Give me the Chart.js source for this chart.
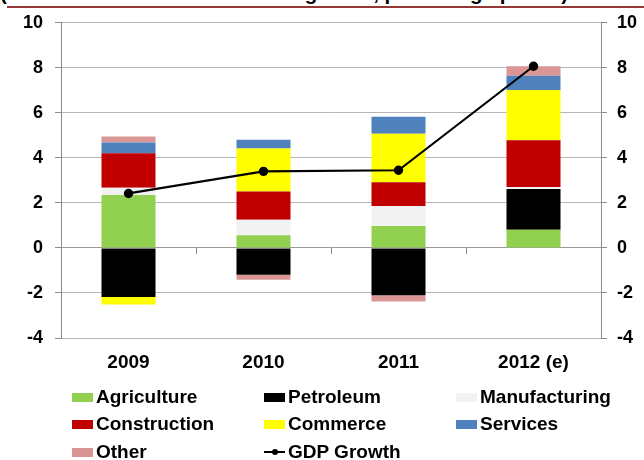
<!DOCTYPE html>
<html><head><meta charset="utf-8">
<script src="https://cdn.jsdelivr.net/npm/chart.js@4.4.1/dist/chart.umd.min.js"></script>
<style>
html,body{margin:0;padding:0;background:#fff;}
#wrap{position:relative;width:644px;height:460px;overflow:hidden;font-family:"Liberation Sans",Arial,sans-serif;}
#title{position:absolute;left:0;top:-17px;font-weight:bold;font-size:20.5px;line-height:20.5px;white-space:nowrap;color:#000;}
#rule{position:absolute;left:7px;right:0;top:6px;height:2px;background:#953735;}
#c{position:absolute;left:0;top:0;}
.item{position:absolute;display:flex;align-items:center;font-weight:bold;font-size:19px;line-height:27px;height:27px;color:#000;white-space:nowrap;}
.sw{width:21px;height:9px;margin-right:3px;margin-top:2px;flex:none;}
.ln{position:relative;width:21px;height:9px;margin-right:3px;margin-top:2px;flex:none;}
.ln:before{content:"";position:absolute;left:0;right:0;top:3.5px;height:2px;background:#000;}
.ln:after{content:"";position:absolute;left:7.5px;top:1.5px;width:6px;height:6px;border-radius:50%;background:#000;}
</style></head>
<body>
<div id="wrap">
  <div id="title">(Sectoral contributions to GDP growth, percentage points)</div>
  <div id="rule"></div>
  <canvas id="c" width="644" height="460"></canvas>
  <div id="legend"></div>
</div>
<script>
const categories = ['2009', '2010', '2011', '2012 (e)'];
const agriculture   = [2.35, 0.56, 0.97, 0.81];
const petroleum     = [-2.18, -1.19, -2.10, 1.81];
const manufacturing = [0.32, 0.69, 0.89, 0.09];
const construction  = [1.54, 1.26, 1.06, 2.07];
const commerce      = [-0.33, 1.91, 2.15, 2.24];
const services      = [0.47, 0.38, 0.76, 0.63];
const other         = [0.27, -0.22, -0.28, 0.42];
const gdpGrowth     = [2.42, 3.40, 3.45, 8.07];
const yMin = -4, yMax = 10, yStep = 2;

const barSeries = [
  ['Agriculture', agriculture, '#92D050'],
  ['Petroleum', petroleum, '#000000'],
  ['Manufacturing', manufacturing, '#F2F2F2'],
  ['Construction', construction, '#C00000'],
  ['Commerce', commerce, '#FFFF00'],
  ['Services', services, '#4F81BD'],
  ['Other', other, '#D99694']
];

const datasets = barSeries.map(([label, data, color]) => ({
  type: 'bar', label, data, backgroundColor: color, borderWidth: 0,
  stack: 'sectors', order: 1, barPercentage: 0.4, categoryPercentage: 1.0
}));
datasets.push({
  type: 'line', label: 'GDP Growth', data: gdpGrowth, stack: 'gdp', order: 0,
  borderColor: '#000', backgroundColor: '#000', borderWidth: 2.2,
  pointRadius: 3.6, pointBackgroundColor: '#000', pointBorderColor: '#000',
  tension: 0, fill: false
});

const zeroTicks = {
  id: 'zeroTicks',
  beforeDatasetsDraw(chart) {
    const x = chart.scales.x, y = chart.scales.y, ctx = chart.ctx;
    const y0 = Math.round(y.getPixelForValue(0));
    const n = x.ticks.length;
    ctx.save(); ctx.strokeStyle = '#8c8c8c'; ctx.lineWidth = 1;
    for (let i = 0; i <= n; i++) {
      let px;
      if (i === 0) px = x.left; else if (i === n) px = x.right;
      else px = (x.getPixelForTick(i - 1) + x.getPixelForTick(i)) / 2;
      px = Math.round(px) + 0.5;
      ctx.beginPath(); ctx.moveTo(px, y0); ctx.lineTo(px, y0 + 6); ctx.stroke();
    }
    ctx.restore();
  }
};

const gridColor = c => (c.tick && c.tick.value === 0) ? '#9a9a9a' : '#b5b5b5';

const chart = new Chart(document.getElementById('c'), {
  data: { labels: categories, datasets },
  plugins: [zeroTicks],
  options: {
    responsive: false, animation: false,
    layout: { padding: { top: 20, bottom: 82, left: 0, right: 0 } },
    plugins: { legend: { display: false }, tooltip: { enabled: false }, title: { display: false } },
    scales: {
      x: {
        stacked: true, offset: true,
        grid: { display: false, drawTicks: false },
        border: { display: false },
        ticks: { color: '#000', padding: 13, font: { family: 'Liberation Sans', weight: 'bold', size: 19 } },
        afterFit: s => { s.height = 40; }
      },
      y: {
        stacked: true, position: 'left', min: yMin, max: yMax,
        ticks: { stepSize: yStep, color: '#000', padding: 12, font: { family: 'Liberation Sans', weight: 'bold', size: 18 } },
        grid: { color: gridColor, tickColor: '#8c8c8c', tickLength: 6, lineWidth: 1 },
        border: { display: true, color: '#8c8c8c' },
        afterFit: s => { s.width = 61; }
      },
      y2: {
        position: 'right', min: yMin, max: yMax,
        ticks: { stepSize: yStep, color: '#000', padding: 10, font: { family: 'Liberation Sans', weight: 'bold', size: 18 } },
        grid: { drawOnChartArea: false, tickColor: '#8c8c8c', tickLength: 6 },
        border: { display: true, color: '#8c8c8c' },
        afterFit: s => { s.width = 43; }
      }
    }
  }
});

// HTML legend built from the chart's datasets (3 columns)
const cols = [72, 264, 456], rowTop = 383, rowH = 27.3;
const leg = document.getElementById('legend');
chart.data.datasets.forEach((ds, i) => {
  const it = document.createElement('div');
  it.className = 'item';
  it.style.left = cols[i % 3] + 'px';
  it.style.top = (rowTop + Math.floor(i / 3) * rowH) + 'px';
  const sw = document.createElement('span');
  if (ds.type === 'line') { sw.className = 'ln'; }
  else { sw.className = 'sw'; sw.style.background = ds.backgroundColor; }
  it.appendChild(sw);
  it.appendChild(document.createTextNode(ds.label));
  leg.appendChild(it);
});
</script>
</body></html>
